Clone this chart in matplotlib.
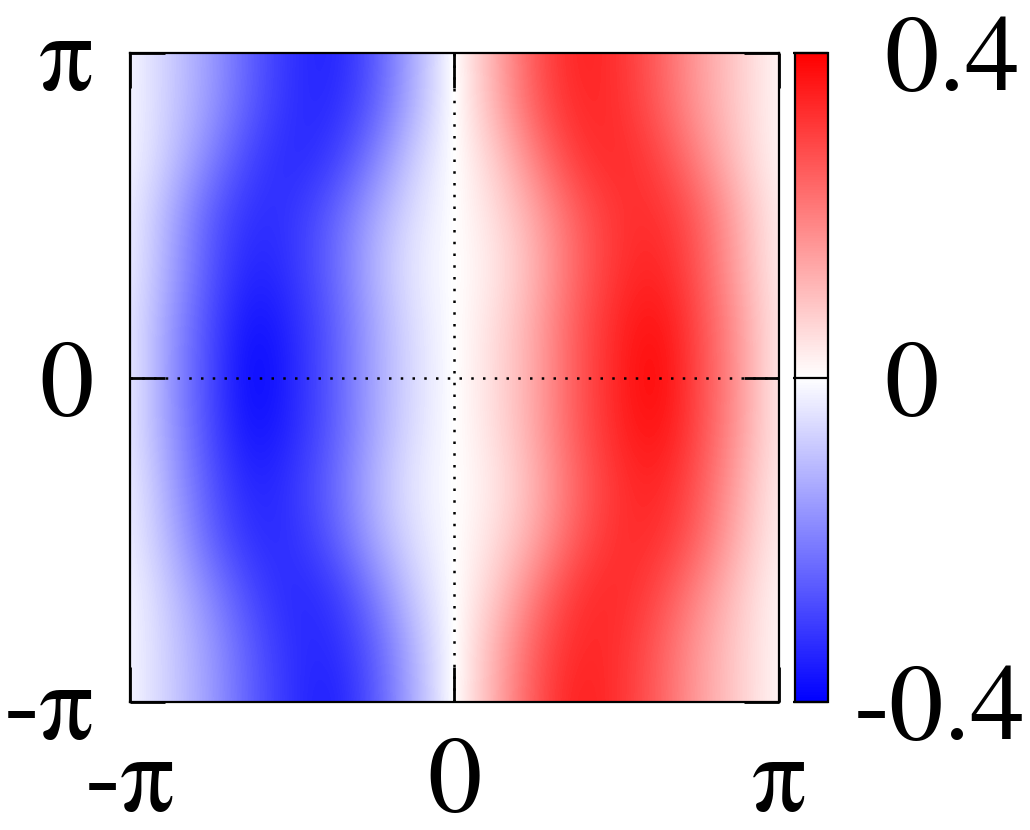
import numpy as np
import matplotlib
matplotlib.use('Agg')
import matplotlib.pyplot as plt
from matplotlib.colors import LinearSegmentedColormap
from matplotlib import transforms

plt.rcParams['font.family'] = ['STIXGeneral', 'Liberation Serif', 'DejaVu Serif']

# valores: filas de y=pi (arriba) a y=-pi (abajo),
# columnas de x=-pi a x=pi en pasos de pi/8
row_y_pi     = [-0.01, -0.08, -0.155, -0.255, -0.325, -0.35, -0.27, -0.13, 0.0, 0.13, 0.27, 0.35, 0.325, 0.255, 0.155, 0.08, 0.01]
row_y_5pi6   = [-0.01, -0.08, -0.16, -0.26, -0.33, -0.34, -0.26, -0.12, 0.0, 0.12, 0.26, 0.34, 0.33, 0.26, 0.16, 0.08, 0.01]
row_y_2pi3   = [-0.01, -0.09, -0.20, -0.30, -0.34, -0.31, -0.20, -0.075, 0.0, 0.075, 0.20, 0.31, 0.34, 0.30, 0.20, 0.09, 0.01]
row_y_pi2    = [-0.02, -0.13, -0.26, -0.33, -0.32, -0.25, -0.14, -0.05, 0.0, 0.05, 0.14, 0.25, 0.32, 0.33, 0.26, 0.13, 0.02]
row_y_pi3    = [-0.02, -0.14, -0.27, -0.35, -0.32, -0.24, -0.12, -0.035, 0.0, 0.035, 0.12, 0.24, 0.32, 0.35, 0.27, 0.14, 0.02]
row_y_pi6    = [-0.03, -0.16, -0.29, -0.38, -0.34, -0.26, -0.14, -0.05, 0.0, 0.05, 0.14, 0.26, 0.34, 0.38, 0.29, 0.16, 0.03]
row_y_0      = [-0.02, -0.17, -0.29, -0.40, -0.345, -0.26, -0.14, -0.055, 0.0, 0.055, 0.14, 0.26, 0.345, 0.40, 0.29, 0.17, 0.02]
row_y_mpi6   = [-0.03, -0.16, -0.29, -0.38, -0.34, -0.26, -0.14, -0.05, 0.0, 0.05, 0.14, 0.26, 0.34, 0.38, 0.29, 0.16, 0.03]
row_y_mpi3   = [-0.02, -0.14, -0.27, -0.35, -0.32, -0.24, -0.12, -0.035, 0.0, 0.035, 0.12, 0.24, 0.32, 0.35, 0.27, 0.14, 0.02]
row_y_mpi2   = [-0.02, -0.12, -0.25, -0.33, -0.33, -0.26, -0.14, -0.05, 0.0, 0.05, 0.14, 0.26, 0.33, 0.33, 0.25, 0.12, 0.02]
row_y_m2pi3  = [-0.01, -0.09, -0.19, -0.29, -0.34, -0.32, -0.21, -0.08, 0.0, 0.08, 0.21, 0.32, 0.34, 0.29, 0.19, 0.09, 0.01]
row_y_m5pi6  = [-0.01, -0.08, -0.16, -0.26, -0.33, -0.34, -0.26, -0.12, 0.0, 0.12, 0.26, 0.34, 0.33, 0.26, 0.16, 0.08, 0.01]
row_y_mpi    = [-0.01, -0.08, -0.155, -0.255, -0.325, -0.36, -0.27, -0.13, 0.0, 0.13, 0.27, 0.36, 0.325, 0.255, 0.155, 0.08, 0.01]

rows = [row_y_pi, row_y_5pi6, row_y_2pi3, row_y_pi2, row_y_pi3, row_y_pi6, row_y_0,
        row_y_mpi6, row_y_mpi3, row_y_mpi2, row_y_m2pi3, row_y_m5pi6, row_y_mpi]

tick_pos = [-np.pi, 0, np.pi]
tick_lab = ['-\u03c0', '0', '\u03c0']
cb_ticks = [-0.4, 0, 0.4]
cb_labels = ['-0.4', '0', '0.4']

Z = np.array(rows)
ny, nx = Z.shape
dx = 2 * np.pi / (nx - 1)
dy = 2 * np.pi / (ny - 1)

cmap = LinearSegmentedColormap.from_list('bwr_puro', [(0, 0, 1), (1, 1, 1), (1, 0, 0)])

fig = plt.figure(figsize=(10.3, 8.3), dpi=100)
ax = fig.add_axes([0.126, 0.154, 0.630, 0.782])
cax = fig.add_axes([0.772, 0.154, 0.032, 0.782])

im = ax.imshow(Z, cmap=cmap, vmin=-0.4, vmax=0.4, origin='upper', aspect='auto',
               interpolation='bicubic',
               extent=[-np.pi - dx / 2, np.pi + dx / 2, -np.pi - dy / 2, np.pi + dy / 2])
ax.set_xlim(-np.pi, np.pi)
ax.set_ylim(-np.pi, np.pi)

ax.axhline(0, color='k', lw=1.8, ls=(0, (1, 3.7)))
ax.axvline(0, color='k', lw=1.8, ls=(0, (1, 3.7)))

ax.set_xticks(tick_pos)
ax.set_xticklabels(tick_lab)
ax.set_yticks(tick_pos)
ax.set_yticklabels(tick_lab)
ax.tick_params(direction='in', length=25, width=2, top=True, right=True,
               labelsize=78, pad=26)
ax.tick_params(axis='x', pad=25)
for s in ax.spines.values():
    s.set_linewidth(1.6)

cb = fig.colorbar(im, cax=cax, ticks=cb_ticks)
cb.outline.set_linewidth(1.6)
cax.tick_params(direction='in', length=25, width=1.6, labelright=False, right=True)

# etiquetas de la barra de color: digitos alineados, el signo menos sobresale
trans = transforms.blended_transform_factory(cax.transAxes, cax.transData)
for val, lab in zip(cb_ticks, cb_labels):
    off = -30 if lab.startswith('-') else 0
    t = transforms.offset_copy(trans, fig=fig, x=off + 56, y=0, units='dots')
    cax.text(1.0, val, lab, transform=t, ha='left', va='center_baseline', fontsize=78)

fig.savefig('out.png', dpi=100)
